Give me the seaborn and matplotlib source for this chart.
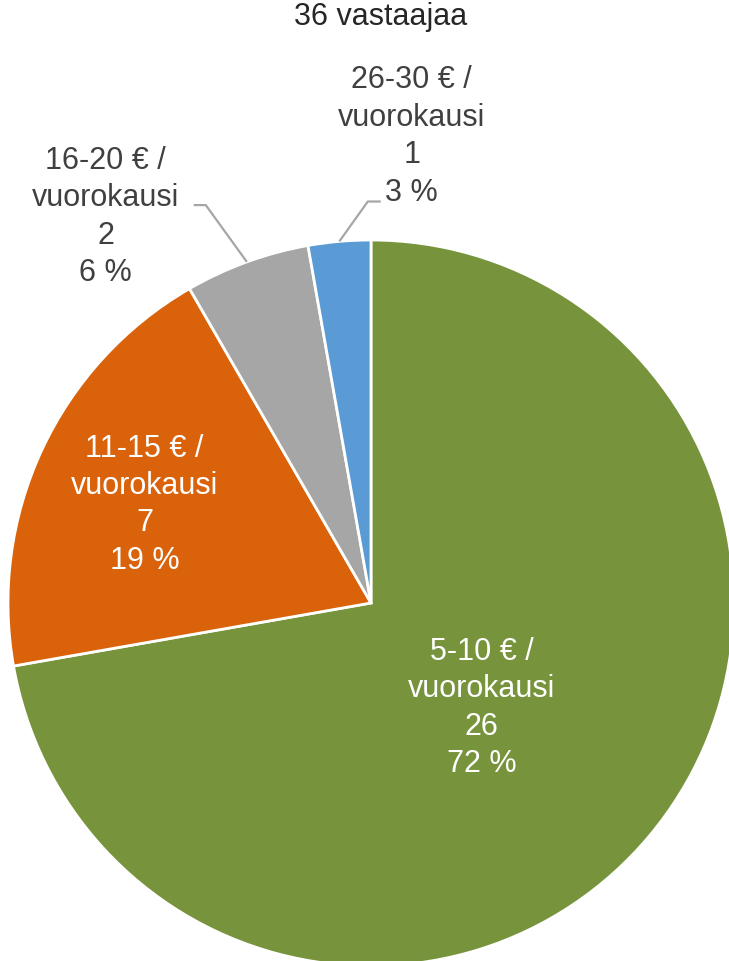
import numpy as np
import matplotlib
matplotlib.use("Agg")
import matplotlib.pyplot as plt
import seaborn as sns

# ---- data ----
categories = ["5-10 € /\nvuorokausi", "11-15 € /\nvuorokausi",
              "16-20 € /\nvuorokausi", "26-30 € /\nvuorokausi"]
counts = [26, 7, 2, 1]
percents = ["72 %", "19 %", "6 %", "3 %"]
title_text = "36 vastaajaa"

# ---- style ----
colors = ["#77933C", "#DA620B", "#A6A6A6", "#5B9BD5"]
label_inside = [True, True, False, False]
label_dist = [0.42, 0.68, 1.29, 1.29]
label_angle_shift = [-3.5, 1.5, 14.5, -10.0]
# leader line: (start offset x from text centre, knee offset x, y offset)
leader = [None, None, (88, 100, 12), (-31, -44, -65)]

sns.set_theme(style="white")
plt.rcParams["font.family"] = ["Liberation Sans", "DejaVu Sans"]

W, H = 729, 961
fig = plt.figure(figsize=(W / 100, H / 100), dpi=100)
ax = fig.add_axes([0, 0, 1, 1])

cx, cy, R = 371, H - 603, 363
wedges, _ = ax.pie(counts, colors=colors, startangle=90, counterclock=False,
                   center=(cx, cy), radius=R,
                   wedgeprops=dict(edgecolor="white", linewidth=2))
ax.set_xlim(0, W)
ax.set_ylim(0, H)
ax.set_aspect("auto")
ax.axis("off")

fs = 22
for i, w in enumerate(wedges):
    mid = (w.theta1 + w.theta2) / 2
    ang = np.deg2rad(mid + label_angle_shift[i])
    tx = cx + label_dist[i] * R * np.cos(ang)
    ty = cy + label_dist[i] * R * np.sin(ang)
    txt = f"{categories[i]}\n{counts[i]}\n{percents[i]}"
    col = "white" if label_inside[i] else "#404040"
    ax.text(tx, ty, txt, ha="center", va="center", fontsize=fs,
            color=col, linespacing=1.32)
    if leader[i] is not None:
        m = np.deg2rad(mid)
        ex, ey = cx + R * np.cos(m), cy + R * np.sin(m)
        dsx, dkx, dy = leader[i]
        yy = ty + dy
        ax.plot([tx + dsx, tx + dkx, ex], [yy, yy, ey], color="#A6A6A6",
                lw=1.6, solid_capstyle="butt")

ax.text(381, H - 17, title_text, ha="center", va="center", fontsize=fs,
        color="#262626")

fig.savefig("out.png", dpi=100)
